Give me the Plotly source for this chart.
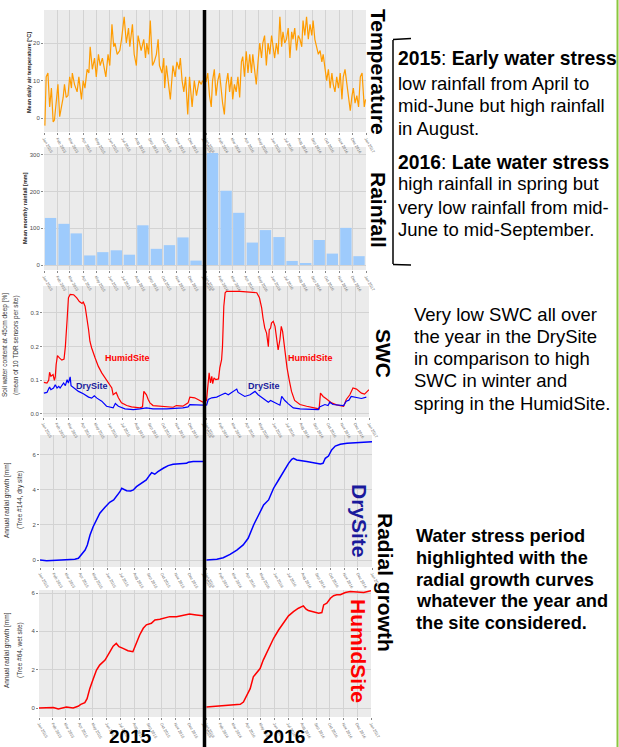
import pandas as pd
import plotly.graph_objects as go

W, H = 619, 747

# ---------------- DATA ----------------
temp15_day = [2,5,9,13,17,21,24,28,32,36,44,47,51,55,59,63,65,70,76,80,86,90,94,99,103,106,111,116,120,125,129,134,142,147,151,156,160,163,168,174,178,184,189,194,197,203,207,212,216,223,229,233,236,240,244,249,253,258,262,265,271,275,277,281,290,296,301,305,310,313,317,321,325,330,334,340,345,350,356,361,364]
temp15_val = [-2,11,12,3,8,-1,-0.5,5,9,0.4,5.5,9,5.5,6,11,8,12,9,7,11,5,10,8,13,12,19,13,16,11,17,14,16,11,17,14,25,19,20,17,18,21,27,20,24,19,25,17,14,22,18,21,16,20,17,26,14,15,17,21,14,12,16,8,14,5,14,11,15,13,16,10,7,11,1,11,3,10,6,10,9,10]

temp16_day = [0,4,8,12,15,19,23,27,31,35,38,42,46,50,54,58,61,65,69,73,77,81,84,88,92,96,100,104,107,111,115,119,123,127,130,134,138,142,146,150,153,157,161,165,169,173,176,180,184,188,192,196,199,203,207,211,215,219,222,226,230,234,238,242,245,249,253,257,261,265,268,272,276,280,284,288,291,295,299,303,307,311,314,318,322,326,330,334,337,341,345,349,353,357,359,362,365]
temp16_val = [9.6,12,6,3,10,13,6,10,12,7,4,1,9,12,7,11,5,9,7,11,5.5,15,16.4,11,17.8,12,17,12,17,13,9,15,20,16,20,22,14,20,17,22,19,16,20,17,27,19,23,20,21,24,16,23,21,24,18,22,21,19,26,22,27,21,25,22,26,21,19,17,18,15,17,14,10,13,8,12,9,7,11,8,12,5,11,13,9,6,2,6,8,4,6,3,11,12,7,3,5]

months = ["Jan","Feb","Mar","Apr","May","Jun","Jul","Aug","Sep","Oct","Nov","Dec"]
rain15 = [128,112,86,26,35,40,28,108,44,54,75,12]
rain16 = [305,202,142,61,95,76,11,5,68,31,101,24]

swc_humid15_day = [2,9,13,15,18,23,26,28,30,33,38,43,48,51,55,58,62,70,77,83,89,92,96,100,104,107,111,119,126,134,145,157,160,167,172,179,191,202,221,227,230,236,240,244,251,266,282,297,304,319,331,335,346,357,365]
swc_humid15_val = [0.094,0.092,0.10,0.124,0.112,0.117,0.10,0.11,0.147,0.173,0.166,0.16,0.163,0.20,0.28,0.345,0.355,0.354,0.345,0.334,0.328,0.332,0.32,0.29,0.25,0.216,0.196,0.166,0.142,0.122,0.102,0.077,0.057,0.064,0.048,0.033,0.025,0.021,0.018,0.021,0.067,0.057,0.043,0.033,0.025,0.023,0.023,0.02,0.025,0.023,0.033,0.05,0.048,0.041,0.035]
swc_dry15_day = [2,9,15,18,24,28,32,36,39,43,47,51,55,58,62,64,70,81,92,104,111,117,123,134,145,160,165,172,187,206,221,236,251,282,319,331,335,357,365]
swc_dry15_val = [0.062,0.064,0.08,0.072,0.077,0.087,0.077,0.082,0.077,0.084,0.092,0.084,0.102,0.092,0.110,0.084,0.077,0.067,0.060,0.050,0.047,0.054,0.047,0.038,0.023,0.018,0.031,0.023,0.015,0.013,0.015,0.018,0.015,0.015,0.018,0.021,0.028,0.026,0.026]

swc_humid16_day = [1,5,7,10,13,15,18,22,28,31,35,37,40,43,46,76,99,114,120,125,128,132,136,140,142,145,147,151,155,158,162,166,169,172,175,178,182,187,192,199,211,226,244,254,257,263,270,282,293,309,315,323,330,338,349,356,366]
swc_humid16_val = [0.038,0.10,0.122,0.092,0.112,0.09,0.107,0.102,0.104,0.137,0.161,0.20,0.32,0.36,0.364,0.364,0.362,0.36,0.345,0.315,0.285,0.255,0.24,0.20,0.25,0.255,0.27,0.275,0.26,0.226,0.19,0.221,0.26,0.245,0.21,0.171,0.137,0.10,0.067,0.04,0.028,0.023,0.018,0.015,0.062,0.052,0.045,0.033,0.027,0.023,0.043,0.057,0.077,0.074,0.062,0.059,0.072]
swc_dry16_day = [1,5,13,24,35,43,50,61,69,72,80,87,99,106,110,117,125,132,140,145,155,166,170,177,185,196,211,233,252,255,267,274,278,285,300,309,315,321,326,338,349,360]
swc_dry16_val = [0.025,0.043,0.048,0.050,0.057,0.062,0.057,0.067,0.074,0.064,0.057,0.052,0.057,0.062,0.067,0.057,0.050,0.044,0.035,0.040,0.033,0.026,0.052,0.040,0.030,0.018,0.015,0.013,0.013,0.021,0.028,0.025,0.035,0.028,0.025,0.025,0.038,0.041,0.052,0.050,0.046,0.050]

rg_dry15_day = [0,15,37,60,78,86,93,101,106,112,119,127,134,145,156,165,171,179,183,188,194,203,209,216,224,231,238,246,250,257,264,276,287,298,313,328,332,343,365]
rg_dry15_val = [0,-0.04,-0.02,0.02,0.04,0.1,0.29,0.57,0.86,1.43,1.9,2.29,2.67,3.0,3.3,3.43,3.62,3.9,4.1,4.04,3.96,3.94,4.0,4.19,4.32,4.44,4.57,4.86,4.99,4.9,5.05,5.24,5.39,5.47,5.49,5.52,5.58,5.62,5.62]
rg_dry16_day = [1,24,38,53,68,82,93,105,116,127,138,149,160,171,182,189,193,200,211,222,237,252,258,263,270,277,285,296,311,325,340,355,366]
rg_dry16_val = [0,0.04,0.13,0.32,0.57,0.86,1.24,2.0,2.57,3.14,3.43,4.1,4.57,5.05,5.52,5.75,5.81,5.71,5.68,5.62,5.56,5.49,5.52,5.81,5.94,6.29,6.51,6.61,6.67,6.70,6.72,6.76,6.76]

rg_hum15_day = [0,17,32,43,54,61,76,87,93,102,107,113,121,128,135,147,158,165,172,178,187,198,209,213,218,224,232,239,250,258,269,280,291,306,324,335,350,365]
rg_hum15_val = [0,0.02,0.03,-0.05,0.0,0.05,0.0,0.09,0.19,0.28,0.49,1.01,1.54,1.98,2.24,2.5,2.94,3.23,3.37,3.2,3.11,2.99,2.94,3.2,3.46,3.81,4.16,4.34,4.42,4.6,4.63,4.72,4.77,4.77,4.84,4.91,4.86,4.81]
rg_hum16_day = [1,24,46,64,76,83,90,98,105,113,120,127,139,150,161,172,183,194,205,216,222,227,239,250,257,261,268,276,283,290,298,302,309,320,335,350,366]
rg_hum16_val = [0.05,0.09,0.14,0.19,0.19,0.31,0.66,1.01,1.63,1.89,2.06,2.5,3.11,3.64,4.07,4.46,4.81,5.03,5.21,5.33,5.16,5.09,5.0,4.95,4.98,5.38,5.47,5.73,5.86,5.91,5.91,5.96,6.03,6.08,6.05,6.03,6.12]

years = [2015, 2016]

# ---------------- HELPERS ----------------
def dates(year, days):
    return pd.Timestamp(f"{year}-01-01") + pd.to_timedelta(days, unit="D")

def px_x(x):
    return x / W

def px_y(y):
    return 1 - y / H

FONT = "Liberation Sans"
BG = "#ebebeb"
GRID = "#d3d3d3"

# panel: (y0, y1, [(x0,x1) 2015, (x0,x1) 2016], yrange, yticks, tickformat)
panels = [
    (10, 132, [(44, 203), (206, 366)], [-3.7, 28.8], [0, 10, 20], "d"),
    (147, 270, [(44, 203), (206, 366)], [-13.6, 321], [0, 100, 200, 300], "d"),
    (286, 417, [(43, 203), (206, 369)], [-0.009, 0.38], [0, 0.1, 0.2, 0.3], ".1f"),
    (435, 567, [(40, 203), (206, 372)], [-0.4, 7.14], [0, 2, 4, 6], "d"),
    (590, 717, [(39, 203), (206, 371)], [-0.47, 6.16], [0, 2, 4, 6], "d"),
]

fig = go.Figure()
layout = dict(width=W, height=H, margin=dict(l=0, r=0, t=0, b=0, pad=0, autoexpand=False),
              paper_bgcolor="white", plot_bgcolor=BG, showlegend=False,
              font=dict(family=FONT))

def axname(k):
    return "" if k == 1 else str(k)

k = 0
axis_ids = {}
for p, (y0, y1, xs, yr, yt, tf) in enumerate(panels):
    for j, yr_ in enumerate(years):
        k += 1
        axis_ids[(p, j)] = k
        x0, x1 = xs[j]
        layout["xaxis" + axname(k)] = dict(
            domain=[px_x(x0), px_x(x1)], anchor="y" + axname(k), type="date",
            range=[f"{yr_}-01-01", f"{yr_ + 1}-01-01"], dtick="M1", tick0=f"{yr_}-01-01",
            tickformat="%b %Y", tickangle=60, tickfont=dict(size=4, color="#666666"),
            showgrid=True, gridcolor=GRID, gridwidth=1, ticks="outside", ticklen=2,
            tickcolor="#888888", zeroline=False, showline=False, automargin=False)
        layout["yaxis" + axname(k)] = dict(
            domain=[px_y(y1), px_y(y0)], anchor="x" + axname(k), range=yr,
            tickvals=yt, tickformat=tf, tickfont=dict(size=6, color="#4d4d4d"),
            showticklabels=(j == 0), ticks="outside" if j == 0 else "", ticklen=2,
            tickcolor="#888888", showgrid=True, gridcolor=GRID, gridwidth=1,
            zeroline=False, showline=False, automargin=False)

def add(p, j, x, y, color, width=1.2):
    kk = axis_ids[(p, j)]
    fig.add_trace(go.Scatter(x=x, y=y, mode="lines", line=dict(color=color, width=width),
                             xaxis="x" + axname(kk), yaxis="y" + axname(kk), hoverinfo="skip"))

# Temperature
add(0, 0, dates(2015, temp15_day), temp15_val, "#ff9c00", 1.2)
add(0, 1, dates(2016, temp16_day), temp16_val, "#ff9c00", 1.2)

# Rainfall
for j, (yr_, vals) in enumerate([(2015, rain15), (2016, rain16)]):
    kk = axis_ids[(1, j)]
    mids = [pd.Timestamp(f"{yr_}-{m:02d}-16") for m in range(1, 13)]
    fig.add_trace(go.Bar(x=mids, y=vals, width=26 * 86400000, marker=dict(color="#9ecbfc", line=dict(width=0)),
                         xaxis="x" + axname(kk), yaxis="y" + axname(kk), hovertext=months))

# SWC
add(2, 0, dates(2015, swc_humid15_day), swc_humid15_val, "#ff0000", 1.2)
add(2, 0, dates(2015, swc_dry15_day), swc_dry15_val, "#0000ff", 1.2)
add(2, 1, dates(2016, swc_humid16_day), swc_humid16_val, "#ff0000", 1.2)
add(2, 1, dates(2016, swc_dry16_day), swc_dry16_val, "#0000ff", 1.2)

# Radial growth
add(3, 0, dates(2015, rg_dry15_day), rg_dry15_val, "#0000ff", 1.5)
add(3, 1, dates(2016, rg_dry16_day), rg_dry16_val, "#0000ff", 1.5)
add(4, 0, dates(2015, rg_hum15_day), rg_hum15_val, "#ff0000", 1.5)
add(4, 1, dates(2016, rg_hum16_day), rg_hum16_val, "#ff0000", 1.5)

fig.update_layout(**layout)

# ---------------- SHAPES ----------------
shapes = [
    dict(type="line", xref="paper", yref="paper", x0=px_x(204.5), x1=px_x(204.5), y0=px_y(10), y1=px_y(747),
         line=dict(color="black", width=3.5), layer="above"),
    dict(type="line", xref="paper", yref="paper", x0=px_x(393), x1=px_x(393), y0=px_y(40), y1=px_y(264),
         line=dict(color="black", width=1.5)),
    dict(type="line", xref="paper", yref="paper", x0=px_x(393), x1=px_x(411), y0=px_y(39.5), y1=px_y(38.5),
         line=dict(color="black", width=1.5)),
    dict(type="line", xref="paper", yref="paper", x0=px_x(393), x1=px_x(411), y0=px_y(264.5), y1=px_y(265),
         line=dict(color="black", width=1.5)),
    dict(type="line", xref="paper", yref="paper", x0=px_x(617.5), x1=px_x(617.5), y0=0, y1=1,
         line=dict(color="#8cc63f", width=2)),
]
fig.update_layout(shapes=shapes)

# ---------------- ANNOTATIONS ----------------
ann = []
def text(x, y, s, size, color="black", angle=0, xanchor="center", bold=False):
    if bold:
        s = "<b>" + s + "</b>"
    ann.append(dict(x=px_x(x), y=px_y(y), xref="paper", yref="paper", text=s, showarrow=False,
                    textangle=angle, xanchor=xanchor, yanchor="middle",
                    font=dict(family=FONT, size=size, color=color)))

# y axis titles
text(29, 73, "Mean daily air temperature [°C]", 5.5, "#222222", -90, bold=True)
text(25, 208, "Mean monthly rainfall [mm]", 5.5, "#222222", -90, bold=True)
text(5, 345, "Soil water content at 45cm deep [%]", 6.5, "#333333", -90)
text(16, 345, "(mean of 10 TDR sensors per site)", 6.5, "#333333", -90)
text(7, 500, "Annual radial growth [mm]", 6.5, "#333333", -90)
text(20, 500, "(Tree #144, dry site)", 6.5, "#333333", -90)
text(7, 650, "Annual radial growth [mm]", 6.5, "#333333", -90)
text(20, 650, "(Tree #64, wet site)", 6.5, "#333333", -90)

# series labels inside SWC
text(127, 358, "HumidSite", 9, "#ff0000", bold=True)
text(92, 386, "DrySite", 9, "#1a1a9c", bold=True)
text(310, 358, "HumidSite", 9, "#ff0000", bold=True)
text(264, 386, "DrySite", 9, "#1a1a9c", bold=True)

# right side vertical labels
text(378, 72, "Temperature", 21, angle=90, bold=True)
text(378, 210, "Rainfall", 21, angle=90, bold=True)
text(384, 353, "SWC", 21, angle=90, bold=True)
text(386, 582, "Radial growth", 21, angle=90, bold=True)
text(360, 521, "DrySite", 21, "#1a1a9c", 90, bold=True)
text(359, 651, "HumidSite", 21, "#ff0000", 90, bold=True)

# years
text(130, 736, "2015", 19, bold=True)
text(284, 736, "2016", 19, bold=True)

# explanatory text
lines1 = [("<b>2015</b>: <b>Early water stress</b>", 59, 19.3),
          ("low rainfall from April to", 83, 18.5),
          ("mid-June but high rainfall", 106, 18.5),
          ("in August.", 128, 18.5),
          ("<b>2016</b>: <b>Late water stress</b>", 162, 19.3),
          ("high rainfall in spring but", 184, 18.5),
          ("very low rainfall from mid-", 207, 18.5),
          ("June to mid-September.", 229, 18.5)]
for s, y, sz in lines1:
    text(396, y, s, sz, xanchor="left")

lines2 = ["Very low SWC all over", "the year in the DrySite", "in comparison to high",
          "SWC in winter and", "spring in the HumidSite."]
for i, s in enumerate(lines2):
    text(412, 314 + i * 22.3, s, 18.5, xanchor="left")

lines3 = ["Water stress period", "highlighted with the", "radial growth curves",
          "whatever the year and", "the site considered."]
for i, s in enumerate(lines3):
    text(414, 536 + i * 21.8, s, 18.2, xanchor="left", bold=True)

fig.update_layout(annotations=ann)
fig.write_html("out.html", config={"displayModeBar": False},
               post_script="document.body.style.margin='0';document.body.style.overflow='hidden';")
